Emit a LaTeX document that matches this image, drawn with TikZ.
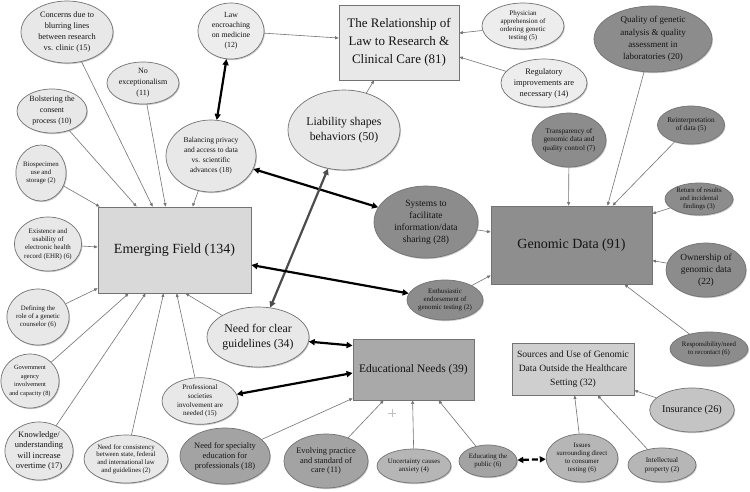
\documentclass[tikz,border=0pt]{standalone}
\usepackage{fontspec}
\setmainfont{Liberation Serif}
\usetikzlibrary{shapes.geometric,arrows.meta,shadows}
\newcommand{\fsz}[2]{\fontsize{#1}{#2}\selectfont}
\definecolor{lt}{HTML}{E8E8E8}
\definecolor{ltr}{HTML}{EDEDED}
\definecolor{dk}{HTML}{8C8C8C}
\definecolor{md}{HTML}{A3A3A3}
\definecolor{mdl}{HTML}{B6B6B6}
\definecolor{ins}{HTML}{C4C4C4}
\definecolor{efc}{HTML}{D9D9D9}
\definecolor{lawc}{HTML}{E8E8E8}
\definecolor{gdc}{HTML}{8E8E8E}
\definecolor{educ}{HTML}{A9A9A9}
\definecolor{srcc}{HTML}{CFCFCF}
\tikzset{
  shd/.style={drop shadow={shadow xshift=0.9pt,shadow yshift=-1.1pt,fill=black,opacity=0.22}},
  ell/.style={ellipse,draw=black!55,line width=0.7pt,inner sep=0pt,align=center,text=black!92,shd},
  catbox/.style={rectangle,draw=black!55,line width=0.8pt,inner sep=0pt,align=center,text=black!92,shd},
  conn/.style={draw=black!55,line width=0.6pt,-{Triangle[length=3.5pt,width=3pt]}},
  bidi/.style={draw=black,line width=2.2pt,{Triangle[length=6pt,width=6pt]}-{Triangle[length=6pt,width=6pt]}},
}
\begin{document}
\begin{tikzpicture}[x=1pt,y=-1pt]
\useasboundingbox (0,0) rectangle (750,491);
\fill[white] (0,0) rectangle (750,491);

% ---- category boxes
\node[catbox,fill=lawc,minimum width=120pt,minimum height=75pt,font=\fsz{13}{18}] (law) at (399,42.5)
  {The Relationship of\\Law to Research \&\\Clinical Care (81)};
\node[catbox,fill=efc,minimum width=153pt,minimum height=86pt,font=\fsz{14}{17}] (ef) at (174.5,250)
  {Emerging Field (134)};
\node[catbox,fill=gdc,minimum width=161pt,minimum height=78pt,font=\fsz{14}{17}] (gd) at (571.5,245)
  {Genomic Data (91)};
\node[catbox,fill=educ,minimum width=121pt,minimum height=61pt,font=\fsz{11.5}{14}] (edu) at (413.5,369.5)
  {Educational Needs (39)};
\node[catbox,fill=srcc,minimum width=122pt,minimum height=52pt,font=\fsz{9.6}{14}] (src) at (573,369)
  {Sources and Use of Genomic\\Data Outside the Healthcare\\Setting (32)};

% ---- ellipses
\node[ell,fill=lt,minimum width=92pt,minimum height=62pt,font=\fsz{8.3}{11}] (concerns) at (67,32)
  {Concerns due to\\blurring lines\\between research\\vs. clinic (15)};
\node[ell,fill=lt,minimum width=72pt,minimum height=42pt,font=\fsz{8}{11}] (noexc) at (143,83)
  {No\\exceptionalism\\(11)};
\node[ell,fill=ltr,minimum width=66pt,minimum height=56pt,font=\fsz{7.8}{10}] (lawenc) at (231,31)
  {Law\\encroaching\\on medicine\\(12)};
\node[ell,fill=lt,minimum width=70pt,minimum height=44pt,font=\fsz{8}{11}] (bolster) at (52,111)
  {Bolstering the\\consent\\process (10)};
\node[ell,fill=lt,minimum width=90pt,minimum height=72pt,font=\fsz{7.5}{10}] (balancing) at (211,156)
  {Balancing privacy\\and access to data\\vs. scientific\\advances (18)};
\node[ell,fill=lt,minimum width=50pt,minimum height=56pt,font=\fsz{6.8}{8.3}] (biospec) at (41,173)
  {Biospecimen\\use and\\storage (2)};
\node[ell,fill=lt,minimum width=64pt,minimum height=54pt,font=\fsz{6.9}{8.3}] (ehr) at (48,244)
  {Existence and\\usability of\\electronic health\\record (EHR) (6)};
\node[ell,fill=lt,minimum width=62pt,minimum height=56pt,font=\fsz{6.8}{8.3}] (defining) at (38,317)
  {Defining the\\role of a genetic\\counselor (6)};
\node[ell,fill=lt,minimum width=54pt,minimum height=54pt,font=\fsz{6.4}{8.7}] (govt) at (30,381)
  {Government\\agency\\involvement\\and capacity (8)};
\node[ell,fill=lt,minimum width=64pt,minimum height=58pt,font=\fsz{8.5}{10.3}] (knowledge) at (39,451)
  {Knowledge/\\understanding\\will increase\\overtime (17)};
\node[ell,fill=lt,minimum width=84pt,minimum height=48pt,font=\fsz{6.8}{7.7}] (consist) at (126,459)
  {Need for consistency\\between state, federal\\and international law\\and guidelines (2)};
\node[ell,fill=lt,minimum width=76pt,minimum height=42pt,font=\fsz{7.1}{8.8}] (profsoc) at (200,401)
  {Professional\\societies\\involvement are\\needed (15)};
\node[ell,fill=md,minimum width=90pt,minimum height=56pt,font=\fsz{8.4}{10}] (specialty) at (225,456)
  {Need for specialty\\education for\\professionals (18)};
\node[ell,fill=lt,minimum width=102pt,minimum height=60pt,font=\fsz{11.8}{15}] (guidelines) at (258,337)
  {Need for clear\\guidelines (34)};
\node[ell,fill=lt,minimum width=112pt,minimum height=80pt,font=\fsz{11.8}{15}] (liability) at (344,130)
  {Liability shapes\\behaviors (50)};
\node[ell,fill=ltr,minimum width=82pt,minimum height=46pt,font=\fsz{7}{8}] (physician) at (523,26)
  {Physician\\apprehension of\\ordering genetic\\testing (5)};
\node[ell,fill=ltr,minimum width=86pt,minimum height=48pt,font=\fsz{8.4}{11}] (regul) at (544,83)
  {Regulatory\\improvements are\\necessary (14)};
\node[ell,fill=dk,minimum width=118pt,minimum height=66pt,font=\fsz{9}{12.3}] (quality) at (653,39)
  {Quality of genetic\\analysis \& quality\\assessment in\\laboratories (20)};
\node[ell,fill=dk,minimum width=70pt,minimum height=54pt,font=\fsz{7.2}{8.5}] (transp) at (569,140)
  {Transparency of\\genomic data and\\quality control (7)};
\node[ell,fill=dk,minimum width=66pt,minimum height=38pt,font=\fsz{7.3}{8.5}] (reinterp) at (691,125)
  {Reinterpretation\\of data (5)};
\node[ell,fill=dk,minimum width=68pt,minimum height=32pt,font=\fsz{6.8}{8}] (returnr) at (699,199)
  {Return of results\\and incidental\\findings (3)};
\node[ell,fill=dk,minimum width=80pt,minimum height=54pt,font=\fsz{9.4}{12}] (owner) at (706,270)
  {Ownership of\\genomic data\\(22)};
\node[ell,fill=dk,minimum width=78pt,minimum height=34pt,font=\fsz{6.8}{8}] (respons) at (709,349)
  {Responsibility/need\\to recontact (6)};
\node[ell,fill=dk,minimum width=104pt,minimum height=72pt,font=\fsz{9.5}{12}] (systems) at (426,222)
  {Systems to\\facilitate\\information/data\\sharing (28)};
\node[ell,fill=dk,minimum width=76pt,minimum height=40pt,font=\fsz{6.9}{8.3}] (enth) at (445,300)
  {Enthusiastic\\endorsement of\\genomic testing (2)};
\node[ell,fill=md,minimum width=80pt,minimum height=54pt,font=\fsz{8.4}{9.5}] (evolving) at (326,461)
  {Evolving practice\\and standard of\\care (11)};
\node[ell,fill=mdl,minimum width=72pt,minimum height=34pt,font=\fsz{6.9}{8.3}] (uncert) at (414,466)
  {Uncertainty causes\\anxiety (4)};
\node[ell,fill=md,minimum width=58pt,minimum height=32pt,font=\fsz{6.9}{8.3}] (educating) at (488,461)
  {Educating the\\public (6)};
\node[ell,fill=mdl,minimum width=70pt,minimum height=48pt,font=\fsz{6.9}{7.7}] (issues) at (582,458)
  {Issues\\surrounding direct\\to consumer\\testing (6)};
\node[ell,fill=mdl,minimum width=68pt,minimum height=34pt,font=\fsz{7.2}{9}] (intell) at (662,465)
  {Intellectual\\property (2)};
\node[ell,fill=ins,minimum width=78pt,minimum height=44pt,font=\fsz{10.3}{12}] (insurance) at (692,410)
  {Insurance (26)};

% ---- thin connectors into Emerging Field
\draw[conn] (concerns) -- ([xshift=55pt]ef.north west);
\draw[conn] (noexc) -- ([xshift=68pt]ef.north west);
\draw[conn] (bolster) -- ([xshift=39pt]ef.north west);
\draw[conn] (balancing) -- ([xshift=95pt]ef.north west);
\draw[conn] (biospec) -- ([xshift=2pt]ef.north west);
\draw[conn] (ehr) -- ([yshift=3pt]ef.west);
\draw[conn] (defining) -- ([yshift=5pt]ef.south west);
\draw[conn] (govt) -- ([xshift=31pt]ef.south west);
\draw[conn] (knowledge) -- ([xshift=48pt]ef.south west);
\draw[conn] (consist) -- ([xshift=66pt]ef.south west);
\draw[conn] (profsoc) -- ([xshift=79pt]ef.south west);
\draw[conn] (guidelines) -- ([xshift=88pt]ef.south west);

% ---- into Law box
\draw[conn] (lawenc) -- ([yshift=4.5pt]law.west);
\draw[conn] (physician) -- ([yshift=9.5pt]law.east);
\draw[conn] (regul) -- ([yshift=-14.5pt]law.east);
\draw[conn] (liability) -- ([xshift=-25pt]law.south);

% ---- into Genomic Data
\draw[conn] (systems) -- ([yshift=13pt]gd.west);
\draw[conn] (enth) -- ([yshift=9pt]gd.south west);
\draw[conn] (transp) -- ([xshift=78pt]gd.north west);
\draw[conn] (quality) -- ([xshift=117pt]gd.north west);
\draw[conn] (reinterp) -- ([xshift=122pt]gd.north west);
\draw[conn] (returnr) -- ([yshift=-8pt]gd.north east);
\draw[conn] (owner) -- ([yshift=-55pt]gd.north east);
\draw[conn] (respons) -- ([xshift=-28pt]gd.south east);

% ---- into Educational Needs
\draw[conn] (specialty) -- ([yshift=2pt]edu.south west);
\draw[conn] (evolving) -- ([xshift=31pt]edu.south west);
\draw[conn] (uncert) -- ([xshift=60pt]edu.south west);
\draw[conn] (educating) -- ([xshift=86pt]edu.south west);

% ---- into Sources
\draw[conn] (insurance) -- ([yshift=5pt]src.south east);
\draw[conn] (issues) -- ([xshift=63pt]src.south west);
\draw[conn] (intell) -- ([xshift=86pt]src.south west);

% ---- thick two-way connectors
\draw[bidi] (balancing) -- (lawenc);
\draw[bidi] (balancing) -- (systems);
\draw[bidi,draw=black!70] (guidelines) -- (liability);
\draw[bidi] (guidelines) -- ([yshift=-7pt]edu.north west);
\draw[bidi] (profsoc) -- ([yshift=-3.5pt]edu.west);
\draw[bidi] (enth) -- ([yshift=-15pt]ef.east);
\draw[bidi,dash pattern=on 6pt off 3pt] (educating) -- (issues);

% ---- small plus mark
\draw[black!25,line width=0.6pt] (388,413) -- (396,413) (392,409) -- (392,417);
\end{tikzpicture}
\end{document}
